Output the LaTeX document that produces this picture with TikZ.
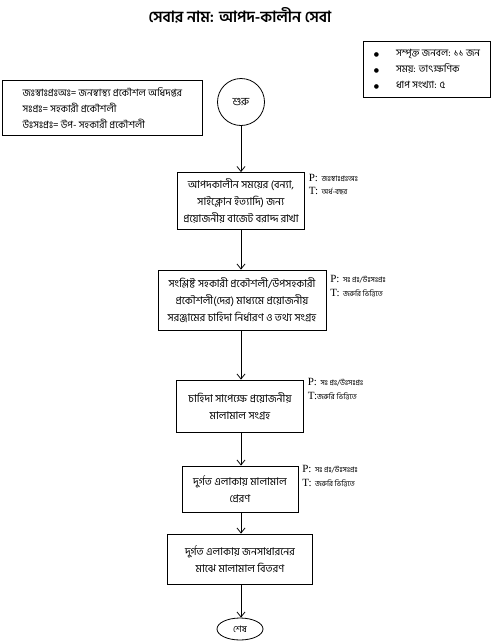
\documentclass[tikz,border=0pt]{standalone}
\usepackage{fontspec}
\newfontfamily\bn[Script=Bengali]{Hind Siliguri}
\newfontfamily\tms{Liberation Serif}
\newfontfamily\sym{DejaVu Sans}
\usetikzlibrary{arrows.meta,shapes.geometric}

\begin{document}
\begin{tikzpicture}[x=1pt,y=-1pt,
    procbox/.style={draw, line width=0.8pt, align=center, inner sep=2pt,
      font=\bn\fontsize{10.6}{17}\selectfont},
    keybox/.style={draw, line width=0.8pt, align=left, inner sep=3pt, anchor=north west,
      font=\bn\fontsize{10}{16}\selectfont},
    ptlabel/.style={anchor=north west, align=left, inner sep=0.75pt,
      font=\fontsize{11}{13.5}\selectfont},
    flow/.style={line width=0.8pt, -{Straight Barb[length=5pt,width=8pt]}}]
\useasboundingbox (0,0) rectangle (493,641);

% Title
\node (title) at (240,15) {\bn\bfseries\fontsize{15.5}{17}\selectfont সেবার নাম: আপদ-কালীন সেবা};

% Legend boxes
\node[keybox, minimum width=200, minimum height=55] (abbr) at (2,80)
  {জঃস্বাঃপ্রঃঅঃ= জনস্বাস্থ্য প্রকৌশল অধিদপ্তর\\
   সঃপ্রঃ= সহকারী প্রকৌশলী\\
   উঃসঃপ্রঃ= উপ- সহকারী প্রকৌশলী};
\node[keybox, minimum width=127, minimum height=56] (facts) at (363,41)
  {\begin{tabular}{@{}l@{\hspace{17pt}}l@{}}
   {\sym\fontsize{6}{8}\selectfont ●} & সম্পৃক্ত জনবল: ১১ জন\\
   {\sym\fontsize{6}{8}\selectfont ●} & সময়: তাৎক্ষণিক\\
   {\sym\fontsize{6}{8}\selectfont ●} & ধাপ সংখ্যা: ৫
   \end{tabular}};

% Flow nodes
\node[draw, line width=0.8pt, circle, minimum size=47, inner sep=0pt,
  font=\bn\fontsize{11}{12}\selectfont] (start) at (241,102) {শুরু};
\node[procbox, minimum width=127, minimum height=57] (budget) at (241,201)
  {আপদকালীন সময়ের (বন্যা,\\ সাইক্লোন ইত্যাদি) জন্য\\ প্রয়োজনীয় বাজেট বরাদ্দ রাখা};
\node[procbox, minimum width=168, minimum height=60] (demand) at (242,300)
  {সংশ্লিষ্ট সহকারী প্রকৌশলী/উপসহকারী\\ প্রকৌশলী(দের) মাধ্যমে প্রয়োজনীয়\\ সরঞ্জামের চাহিদা নির্ধারণ ও তথ্য সংগ্রহ};
\node[procbox, minimum width=127, minimum height=52] (collect) at (240,406)
  {চাহিদা সাপেক্ষে প্রয়োজনীয়\\ মালামাল সংগ্রহ};
\node[procbox, minimum width=116, minimum height=46] (send) at (240,489)
  {দুর্গত এলাকায় মালামাল\\ প্রেরণ};
\node[procbox, minimum width=145, minimum height=50] (distribute) at (240,559)
  {দুর্গত এলাকায় জনসাধারনের\\ মাঝে মালামাল বিতরণ};
\node[draw, line width=0.8pt, ellipse, minimum width=46, minimum height=22, inner sep=0pt,
  font=\bn\fontsize{9}{10}\selectfont] (finish) at (240,629) {শেষ};

% P / T labels
\node[ptlabel] (pt1) at ([xshift=3pt,yshift=-1pt]budget.north east)
  {{\tms P:} {\bn\fontsize{7.5}{13.5}\selectfont জঃস্বাঃপ্রঃঅঃ}\\ {\tms T:} {\bn\fontsize{7.5}{13.5}\selectfont অর্ধ-বছর}};
\node[ptlabel] (pt2) at ([xshift=3pt,yshift=-5pt]demand.north east)
  {{\tms P:} {\bn\fontsize{7.5}{13.5}\selectfont সঃ প্রঃ/উঃসঃপ্রঃ}\\ {\tms T:} {\bn\fontsize{7.5}{13.5}\selectfont জরুরি ভিত্তিতে}};
\node[ptlabel] (pt3) at ([xshift=3pt,yshift=2pt]collect.north east)
  {{\tms P:} {\bn\fontsize{7.5}{13.5}\selectfont সঃ প্রঃ/উঃসঃপ্রঃ}\\ {\tms T:}{\bn\fontsize{7.5}{13.5}\selectfont জরুরি ভিত্তিতে}};
\node[ptlabel] (pt4) at ([xshift=3pt,yshift=1pt]send.north east)
  {{\tms P:} {\bn\fontsize{7.5}{13.5}\selectfont সঃ প্রঃ/উঃসঃপ্রঃ}\\ {\tms T:} {\bn\fontsize{7.5}{13.5}\selectfont জরুরি ভিত্তিতে}};

% Arrows
\draw[flow] (start) -- (start |- budget.north);
\draw[flow] (budget) -- (budget |- demand.north);
\draw[flow] (demand.south -| budget) -- (budget |- collect.north);
\draw[flow] (collect.south -| budget) -- (budget |- send.north);
\draw[flow] (send.south -| budget) -- (budget |- distribute.north);
\draw[flow] (distribute.south -| budget) -- (budget |- finish.north);

\end{tikzpicture}
\end{document}
